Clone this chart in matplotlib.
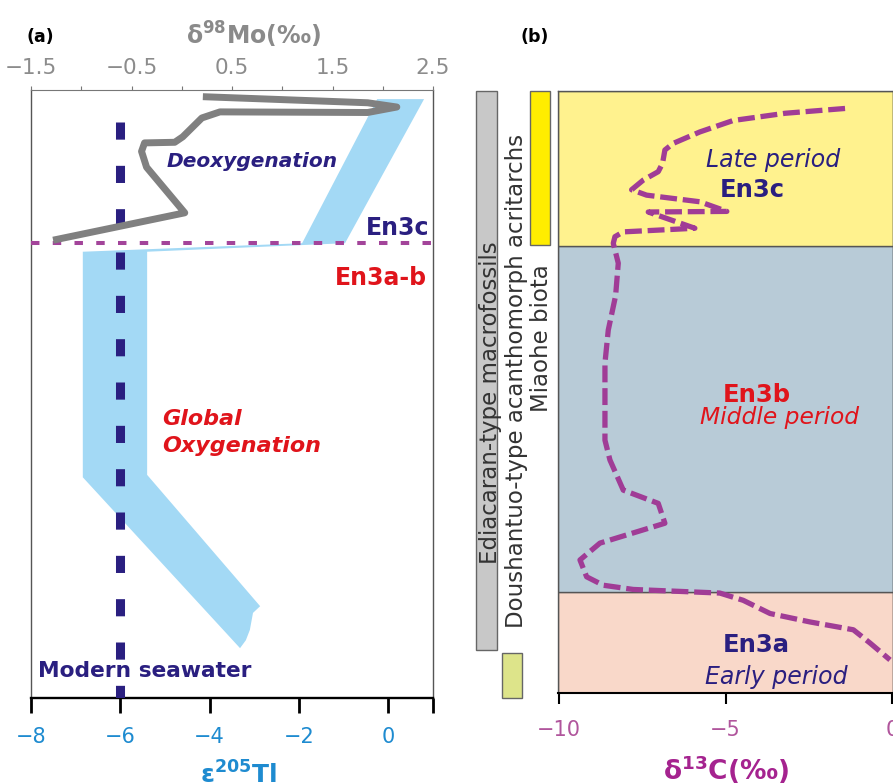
import numpy as np
import matplotlib
matplotlib.use("Agg")
import matplotlib.pyplot as plt

# ---- panel (a): Tl isotope band (bottom axis) and Mo isotope curve (top axis) ----
tl_band_x = [-0.25, 0.80, -0.97, -5.40, -5.40, -2.87, -3.03, -3.10, -3.19, -3.32, -6.84, -6.84, -1.93]
tl_band_y = [98.5, 98.5, 74.8, 73.4, 36.7, 15.1, 14.0, 11.2, 9.5, 8.2, 36.3, 73.4, 74.8]
mo_x = [0.21, 1.85, 2.14, 1.85, 0.38, 0.20, 0.01, -0.07, -0.37, -0.40, -0.35, 0.03, -1.28]
mo_y = [98.9, 97.9, 97.2, 96.3, 96.4, 95.4, 92.3, 91.4, 91.3, 89.9, 87.3, 79.8, 75.3]
modern_tl = -6.0
modern_top = 94.7
boundary_a = 74.8
tl_ticks = [-8, -6, -4, -2, 0, 1]
tl_labels = ["\u22128", "\u22126", "\u22124", "\u22122", "0", ""]
mo_major = [-1.5, -0.5, 0.5, 1.5, 2.5]
mo_minor = [-1.0, 0.0, 1.0, 2.0]

# ---- panel (b): carbon isotope curve, periods and fossil ranges ----
c13_x = [-1.41, -3.21, -4.77, -5.77, -6.57, -6.82, -6.89, -7.02, -7.47, -7.82, -7.37, -5.77, -4.96,
         -7.32, -5.92, -8.07, -8.32, -8.37, -8.22, -8.30, -8.52, -8.62, -8.62, -8.47, -8.07, -7.02,
         -6.82, -8.77, -9.37, -9.17, -8.67, -7.77, -5.17, -4.47, -3.66, -2.46, -1.16, -0.66, -0.06]
c13_y = [97.1, 96.3, 95.1, 93.2, 91.3, 90.2, 88.0, 86.6, 85.2, 83.6, 82.7, 81.6, 80.0,
         79.9, 77.2, 76.6, 75.8, 74.7, 71.4, 66.0, 60.3, 54.8, 42.0, 38.7, 33.7, 31.5,
         28.2, 24.9, 22.1, 19.3, 17.9, 17.2, 16.6, 15.4, 13.2, 11.8, 10.5, 8.3, 5.5]
period_edges = [0, 16.8, 74.3, 100]
period_colors = ["#F9D8C9", "#B8CBD7", "#FFF28E"]
c13_ticks = [-10, -5, 0]
fossil_names = ["Ediacaran-type macrofossils", "Doushantuo-type acanthomorph acritarchs", "Miaohe biota"]
fossil_bottom = [7.1, -0.8, 74.5]
fossil_top = [100, 6.6, 100]
fossil_colors = ["#C8C8C8", "#DDE48A", "#FFED00"]
fossil_label_y = [48.2, 51.9, 58.9]

navy = "#2A1F80"
red = "#E0141B"
blue = "#1E8BD0"
purple = "#A3449A"

fig = plt.figure(figsize=(8.93, 7.84), dpi=100)
W, H = 893.0, 784.0


def px_axes(x0, y0, x1, y1):
    return fig.add_axes([x0 / W, 1 - y1 / H, (x1 - x0) / W, (y1 - y0) / H])


# ================= panel (a) =================
ax = px_axes(31, 90, 433, 698)
ax.set_xlim(-8, 1)
ax.set_ylim(0, 100)
ax.fill(tl_band_x, tl_band_y, color="#A3D9F5", lw=0, zorder=1)
ax.plot([modern_tl, modern_tl], [modern_top, 0], color=navy, lw=6.5,
        linestyle=(0, (1.9, 2.9)), zorder=3)
ax.axhline(boundary_a, color=purple, lw=2.9, linestyle=(0, (2.1, 3.3)), zorder=4)

ax.set_xticks(tl_ticks)
ax.set_xticklabels(tl_labels)
ax.set_yticks([])
ax.tick_params(axis="x", direction="out", length=10.8, width=2, color="black",
               pad=10, labelsize=15, labelcolor=blue)
for s in ["left", "right"]:
    ax.spines[s].set_color("#555555")
    ax.spines[s].set_linewidth(1.0)
ax.spines["top"].set_visible(False)
ax.spines["bottom"].set_linewidth(1.7)
ax.set_xlabel(r"$\mathbf{\varepsilon}^{\mathbf{205}}$Tl", color=blue, fontsize=18, fontweight="bold")
ax.xaxis.set_label_coords(0.515, -0.105)

ax.text(-3.05, 87.3, "Deoxygenation", color=navy, fontsize=14.5, fontweight="bold",
        style="italic", ha="center", va="baseline")
ax.text(0.93, 76.2, "En3c", color=navy, fontsize=17, fontweight="bold", ha="right", va="baseline")
ax.text(0.87, 67.9, "En3a-b", color=red, fontsize=17, fontweight="bold", ha="right", va="baseline")
ax.text(-5.07, 44.9, "Global", color=red, fontsize=16, fontweight="bold", style="italic",
        ha="left", va="baseline")
ax.text(-5.07, 40.5, "Oxygenation", color=red, fontsize=16, fontweight="bold", style="italic",
        ha="left", va="baseline")
ax.text(-7.84, 3.45, "Modern seawater", color=navy, fontsize=15.7, fontweight="bold",
        ha="left", va="baseline")

top = ax.twiny()
top.set_xlim(-1.5, 2.5)
top.plot(mo_x, mo_y, color="#808080", lw=5, solid_joinstyle="round", solid_capstyle="butt")
top.set_xticks(mo_major)
top.set_xticklabels(["\u22121.5", "\u22120.5", "0.5", "1.5", "2.5"])
top.set_xticks(mo_minor, minor=True)
top.tick_params(axis="x", which="both", direction="out", length=3, width=0.8,
                color="#777777", pad=5.5, labelsize=15.5, labelcolor="#8C8C8C")
for s in ["left", "right", "bottom"]:
    top.spines[s].set_visible(False)
top.spines["top"].set_color("#777777")
top.spines["top"].set_linewidth(0.8)
top.set_xlabel("\u03b4$^{\\mathbf{98}}$Mo(\u2030)", color="#8A8A8A", fontsize=17, fontweight="bold")
top.xaxis.set_label_coords(0.555, 1.075)

fig.text(26 / W, 1 - 42 / H, "(a)", fontsize=12.5, fontweight="bold", va="baseline")
fig.text(520 / W, 1 - 42 / H, "(b)", fontsize=12.5, fontweight="bold", va="baseline")

# ================= panel (b) =================
bx = px_axes(558, 91, 893, 693)
bx.set_xlim(-10.03, 0.03)
bx.set_ylim(0, 100)
for i, c in enumerate(period_colors):
    bx.axhspan(period_edges[i], period_edges[i + 1], facecolor=c, edgecolor="#555555",
               lw=1.0, zorder=0)
bx.plot(c13_x, c13_y, color="#A03C96", lw=3.8, linestyle=(0, (3.2, 1.1)),
        dash_joinstyle="round", zorder=3)
bx.set_xticks(c13_ticks)
bx.set_xticklabels(["\u221210", "\u22125", "0"])
bx.set_yticks([])
bx.tick_params(axis="x", direction="out", length=7.7, width=1.5, color="black",
               pad=12, labelsize=15, labelcolor="#B0559C")
for s in ["left", "top", "right"]:
    bx.spines[s].set_color("#555555")
    bx.spines[s].set_linewidth(1.0)
bx.spines["bottom"].set_linewidth(1.5)
bx.set_xlabel("\u03b4$^{\\mathbf{13}}$C(\u2030)", color="#A5238F", fontsize=19, fontweight="bold")
bx.xaxis.set_label_coords(0.50, -0.100)

bx.text(-3.57, 87.4, "Late period", color=navy, fontsize=17, style="italic", ha="center", va="baseline")
bx.text(-4.20, 82.4, "En3c", color=navy, fontsize=17.5, fontweight="bold", ha="center", va="baseline")
bx.text(-4.05, 48.3, "En3b", color=red, fontsize=17.5, fontweight="bold", ha="center", va="baseline")
bx.text(-3.39, 44.7, "Middle period", color=red, fontsize=16.8, style="italic", ha="center", va="baseline")
bx.text(-4.08, 6.8, "En3a", color=navy, fontsize=17.5, fontweight="bold", ha="center", va="baseline")
bx.text(-3.48, 1.5, "Early period", color=navy, fontsize=17, style="italic", ha="center", va="baseline")

# fossil range bars to the left of panel (b)
fx = px_axes(470, 91, 558, 693)
fx.set_xlim(0, 88)
fx.set_ylim(0, 100)
fx.axis("off")
bar_x = [16.5, 42, 70]
bar_w = [21, 20, 20]
label_x = [20, 46, 71]
for i in range(3):
    fx.bar(bar_x[i], fossil_top[i] - fossil_bottom[i], width=bar_w[i], bottom=fossil_bottom[i],
           color=fossil_colors[i], edgecolor="#666666", lw=1.0, clip_on=False, zorder=1)
    fx.text(label_x[i], fossil_label_y[i], fossil_names[i], rotation=90, fontsize=16.5,
            color="#333333", ha="center", va="center", zorder=2)

fig.savefig("out.png", dpi=100)
